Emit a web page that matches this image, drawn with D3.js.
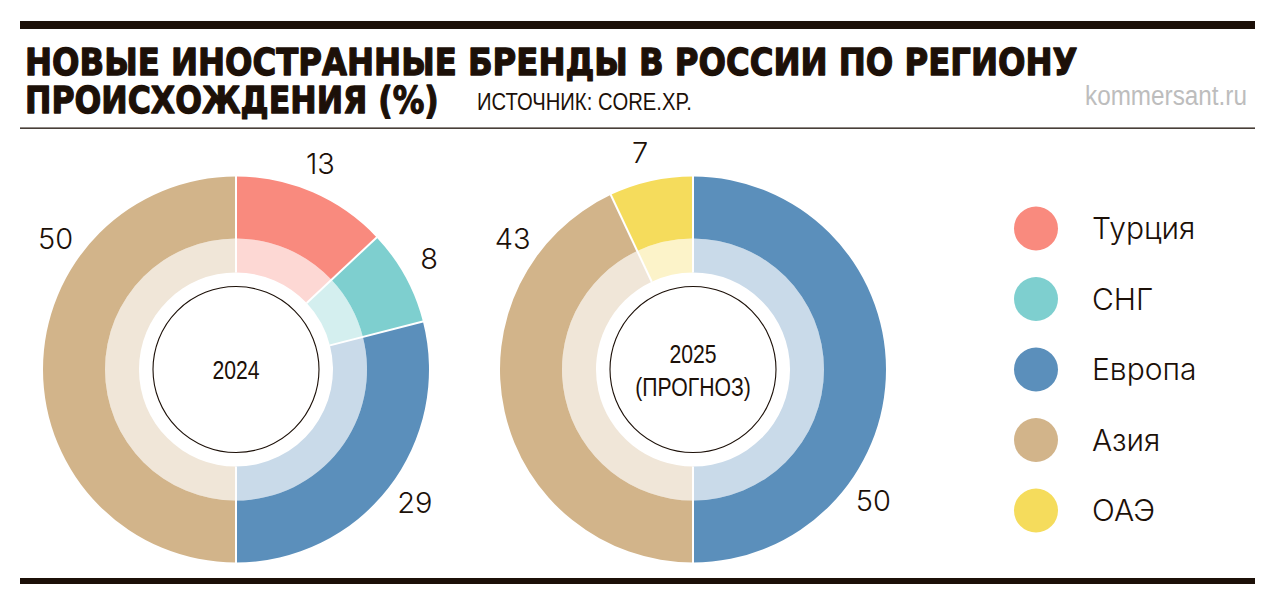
<!DOCTYPE html>
<html>
<head>
<meta charset="utf-8">
<script src="https://cdn.jsdelivr.net/npm/d3@7"></script>
<style>
  html, body { margin: 0; padding: 0; background: #fff; }
  svg { display: block; }
</style>
</head>
<body>
<svg id="chart" width="1276" height="605"></svg>
<script>
// ---- data ----
const regions = ["Турция", "СНГ", "Европа", "Азия", "ОАЭ"];
const years = ["2024", "2025"];
const values2024 = [13, 8, 29, 50, 0];
const values2025 = [0, 0, 50, 43, 7];
const centerLabels2024 = ["2024"];
const centerLabels2025 = ["2025", "(ПРОГНОЗ)"];
const titleLines = ["НОВЫЕ ИНОСТРАННЫЕ БРЕНДЫ В РОССИИ ПО РЕГИОНУ", "ПРОИСХОЖДЕНИЯ (%)"];
const sourceText = "ИСТОЧНИК: CORE.XP.";
const siteText = "kommersant.ru";

// ---- style ----
const palette = ["#F98A7E", "#7ECFCF", "#5B8FBB", "#D2B48A", "#F5DC5C"];
const ink = "#1c1008";
const numFont = "Inter, 'Liberation Sans', Arial, sans-serif";
const condFont = "'Liberation Sans', Arial, sans-serif";
const titleFont = "'DejaVu Sans', 'Liberation Sans', sans-serif";

const svg = d3.select("#chart");

// place text at (x, y) and scale it horizontally so its width becomes w
function placeFit(sel, x, y, w) {
  const len = sel.node().getComputedTextLength();
  sel.attr("x", 0).attr("y", 0)
    .attr("transform", `translate(${x},${y}) scale(${w / len},1)`);
}
function condense(sel, k) {
  sel.attr("transform", `scale(${k},1)`);
}

// rules
svg.append("rect").attr("x", 20).attr("y", 21).attr("width", 1235).attr("height", 8).attr("fill", ink);
svg.append("rect").attr("x", 20).attr("y", 127.5).attr("width", 1235).attr("height", 1.3).attr("fill", ink);
svg.append("rect").attr("x", 20).attr("y", 578).attr("width", 1235).attr("height", 6).attr("fill", ink);

// title
const t1 = svg.append("text")
  .attr("font-family", titleFont).attr("font-weight", 700)
  .attr("font-size", 38).attr("fill", ink)
  .attr("stroke", ink).attr("stroke-width", 1.3).attr("stroke-linejoin", "round")
  .text(titleLines[0]);
placeFit(t1, 25, 75, 1053);
const t2 = svg.append("text")
  .attr("font-family", titleFont).attr("font-weight", 700)
  .attr("font-size", 38).attr("fill", ink)
  .attr("stroke", ink).attr("stroke-width", 1.3).attr("stroke-linejoin", "round")
  .text(titleLines[1]);
placeFit(t2, 25, 113, 414);
const src = svg.append("text")
  .attr("font-family", condFont).attr("font-size", 23).attr("fill", ink).text(sourceText);
placeFit(src, 477, 110, 215);
const site = svg.append("text")
  .attr("font-family", condFont).attr("font-size", 27).attr("fill", "#BDBDBD").text(siteText);
placeFit(site, 1085, 105, 162);

// ---- donuts ----
const cx = d3.scalePoint().domain(years).range([236, 693]);
const cy = 369.5;
const R_OUT = 193, R_MID = 131, R_IN = 97, R_CIRCLE = 83, R_LABEL = 223;

const pie = d3.pie().sort(null).value(d => d.value);
const arcOuter = d3.arc().innerRadius(R_MID).outerRadius(R_OUT);
const arcInner = d3.arc().innerRadius(R_IN).outerRadius(R_MID);

const datasets = [
  { year: "2024", values: values2024, center: centerLabels2024 },
  { year: "2025", values: values2025, center: centerLabels2025 }
];

datasets.forEach(ds => {
  const g = svg.append("g").attr("transform", `translate(${cx(ds.year)},${cy})`);
  const arcs = pie(regions.map((r, i) => ({ region: r, value: ds.values[i], color: palette[i] })))
    .filter(a => a.data.value > 0);

  g.selectAll("path.inner").data(arcs).join("path")
    .attr("class", "inner")
    .attr("d", arcInner)
    .attr("fill", d => d3.interpolateRgb("#ffffff", d.data.color)(0.33));
  g.selectAll("path.outer").data(arcs).join("path")
    .attr("class", "outer")
    .attr("d", arcOuter)
    .attr("fill", d => d.data.color);
  g.selectAll("line.sep").data(arcs).join("line")
    .attr("class", "sep")
    .attr("x1", d => Math.sin(d.startAngle) * R_IN)
    .attr("y1", d => -Math.cos(d.startAngle) * R_IN)
    .attr("x2", d => Math.sin(d.startAngle) * (R_OUT + 1))
    .attr("y2", d => -Math.cos(d.startAngle) * (R_OUT + 1))
    .attr("stroke", "#fff").attr("stroke-width", 2);

  g.append("circle").attr("r", R_CIRCLE).attr("fill", "#fff")
    .attr("stroke", ink).attr("stroke-width", 1.1);

  g.selectAll("text.val").data(arcs).join("text")
    .attr("class", "val")
    .each(function (d) {
      const ang = d.data.value >= 40 ? d.startAngle + 0.35 * 2 * Math.PI : (d.startAngle + d.endAngle) / 2 - 0.02;
      d3.select(this)
        .attr("x", Math.sin(ang) * R_LABEL)
        .attr("y", -Math.cos(ang) * R_LABEL);
    })
    .attr("dy", "0.36em")
    .attr("text-anchor", "middle")
    .attr("font-family", numFont).attr("font-weight", 300).attr("font-size", 29).attr("fill", ink)
    .text(d => d.data.value);

  const n = ds.center.length;
  ds.center.forEach((txt, i) => {
    const t = g.append("text")
      .attr("x", 0).attr("y", (i - (n - 1) / 2) * 33)
      .attr("dy", "0.36em")
      .attr("text-anchor", "middle")
      .attr("font-family", condFont).attr("font-size", 26.5).attr("fill", ink)
      .text(txt);
    condense(t, 0.8);
  });
});

// ---- legend ----
const ly = d3.scalePoint().domain(regions).range([228.5, 510.5]);
const leg = svg.append("g");
leg.selectAll("circle").data(regions).join("circle")
  .attr("cx", 1036).attr("cy", d => ly(d)).attr("r", 22)
  .attr("fill", (d, i) => palette[i]);
leg.selectAll("text").data(regions).join("text")
  .attr("x", 1092).attr("y", d => ly(d)).attr("dy", "0.36em")
  .attr("font-family", numFont).attr("font-weight", 300).attr("font-size", 30).attr("fill", ink)
  .text(d => d);
</script>
</body>
</html>
